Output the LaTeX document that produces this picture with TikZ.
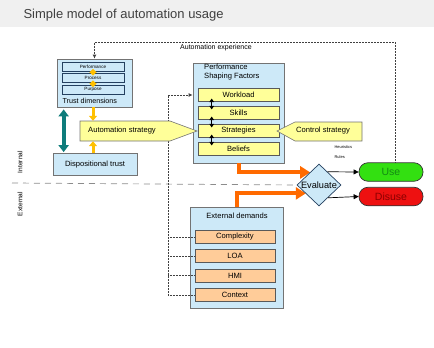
\documentclass[tikz,border=0pt]{standalone}
\usepackage{fontspec}
\setmainfont{Liberation Sans}
\usetikzlibrary{arrows.meta,shapes.geometric,calc}

\definecolor{boxblue}{HTML}{CDE9F8}
\definecolor{rowyellow}{HTML}{FFFF99}
\definecolor{rowpeach}{HTML}{FFCC99}
\definecolor{navyline}{HTML}{24405F}
\definecolor{tealarrow}{HTML}{0E7C7B}
\definecolor{goldarrow}{HTML}{FFC000}
\definecolor{orangearrow}{HTML}{FF6A00}
\definecolor{usegreen}{HTML}{33E011}
\definecolor{usetext}{HTML}{138A13}
\definecolor{disred}{HTML}{EE1111}
\definecolor{distext}{HTML}{8A0000}

\begin{document}
\begin{tikzpicture}[x=1pt,y=-1pt,
  font=\fontsize{7.6}{8.8}\selectfont,
  panel/.style={draw=black!55, fill=boxblue, line width=0.7pt, inner sep=0pt},
  trow/.style={draw=navyline, fill=boxblue, line width=0.7pt, minimum width=62, minimum height=9, inner sep=0pt, font=\fontsize{4.6}{5.5}\selectfont},
  yrow/.style={draw=black!65, fill=rowyellow, line width=0.6pt, minimum width=81, minimum height=13.5, inner sep=0pt},
  prow/.style={draw=black!65, fill=rowpeach, line width=0.6pt, minimum width=80, minimum height=13, inner sep=0pt},
  arrowshape/.style={draw=black!55, fill=rowyellow, line width=0.6pt},
  pill/.style={draw=black!80, line width=0.7pt, rounded corners=9pt, minimum width=64, minimum height=18.5, inner sep=0pt, font=\fontsize{10.5}{12}\selectfont},
  dotline/.style={draw=black!75, line width=0.9pt, dash pattern=on 0.9pt off 0.6pt},
  goldpair/.style={draw=goldarrow, line width=1.8pt, {Triangle[width=7pt,length=3.5pt]}-{Triangle[width=7pt,length=3.5pt]}},
  goldone/.style={draw=goldarrow, line width=3pt, -{Triangle[width=8pt,length=5pt]}},
  blkpair/.style={draw=black, line width=1pt, {Triangle[width=4.5pt,length=3.5pt]}-{Triangle[width=4.5pt,length=3.5pt]}},
  orangeflow/.style={draw=orangearrow, line width=4pt, -{Triangle[width=12pt,length=10pt]}},
  outarrow/.style={draw=black, line width=0.7pt, -{Triangle[width=5pt,length=5pt]}}
]
\useasboundingbox (0,0) rectangle (434,348);

% title band
\fill[black!6] (0,0) rectangle (434,27);
\node[anchor=west, font=\fontsize{13}{15}\selectfont, text=black!75] (title) at (20,15) {Simple model of automation usage};

% trust dimensions panel
\node[panel, minimum width=75, minimum height=48] (trust) at (94.5,83) {};
\node[trow] (perf) at (93,66.5) {Performance};
\node[trow] (proc) at (93,78) {Process};
\node[trow] (purp) at (93,89.5) {Purpose};
\node[anchor=west, font=\fontsize{7.2}{8}\selectfont] (trustlbl) at (59,101) {Trust dimensions};
\draw[goldpair] ([yshift=2.5pt]perf.south) -- ([yshift=-2.5pt]proc.north);
\draw[goldpair] ([yshift=2.5pt]proc.south) -- ([yshift=-2.5pt]purp.north);

% dispositional trust
\node[panel, minimum width=84, minimum height=22] (disp) at (95,164.5) {Dispositional trust};

% performance shaping factors panel
\node[panel, minimum width=91, minimum height=100] (psf) at (238.5,113) {};
\node[anchor=north west, align=left, inner sep=0pt] (psftitle) at (204,64) {Performance\\Shaping Factors};
\node[yrow] (wl) at (238.5,95) {Workload};
\node[yrow] (sk) at (238.5,113) {Skills};
\node[yrow] (st) at (238.5,131) {Strategies};
\node[yrow] (be) at (238.5,149) {Beliefs};
\draw[blkpair] ([xshift=14pt,yshift=3.5pt]wl.south west) -- ([xshift=14pt,yshift=-3.5pt]sk.north west);
\draw[blkpair] ([xshift=14pt,yshift=3.5pt]sk.south west) -- ([xshift=14pt,yshift=-3.5pt]st.north west);
\draw[blkpair] ([xshift=14pt,yshift=3.5pt]st.south west) -- ([xshift=14pt,yshift=-3.5pt]be.north west);

% external demands panel
\node[panel, minimum width=93, minimum height=101] (ext) at (236.5,257.5) {};
\node (exttitle) at (237,215.5) {External demands};
\node[prow] (cx) at (235,237) {Complexity};
\node[prow] (loa) at (235,256) {LOA};
\node[prow] (hmi) at (235,275.5) {HMI};
\node[prow] (ctx) at (235,295) {Context};

% internal / external divider
\coordinate (divL) at (12,183);
\node[rotate=90, font=\fontsize{6.6}{7.5}\selectfont] (intlbl) at (20,162) {Internal};
\node[rotate=90, font=\fontsize{6.6}{7.5}\selectfont] (extlbl) at (20,204) {External};

% flows into evaluation
\coordinate (evalW) at (297,185);
\coordinate (evalN) at (319,164);
\coordinate (evalS) at (319,206);
\draw[orangeflow] (psf.south) |- ($(evalW)!0.6!(evalN)$);
\draw[orangeflow] (ext.north) |- ($(evalW)!0.4!(evalS)$);

% evaluation and outcomes
\node[diamond, draw=navyline, fill=boxblue, line width=0.7pt, minimum width=44, minimum height=42, inner sep=0pt] (eval) at (319,185) {};
\node[font=\fontsize{9.2}{10}\selectfont] (evaltxt) at (eval) {Evaluate};
\node[pill, fill=usegreen, text=usetext] (use) at (391,172) {Use};
\node[pill, fill=disred, text=distext] (disuse) at (391,196.5) {Disuse};
\draw[outarrow] ($(eval.north)!0.38!(eval.east)$) -- (use.west);
\draw[outarrow] ($(eval.south)!0.4!(eval.east)$) -- (disuse.west);

\draw[draw=black!45, line width=0.7pt, dash pattern=on 6pt off 5pt] (divL) -- (eval.west);

% automation experience feedback loop
\coordinate (expcorner) at (395,42);
\draw[dotline, -{Latex[length=4pt,width=4pt]}] ([xshift=4pt]use.north) -- (expcorner) -| (trust.north);
\node[font=\fontsize{7}{8}\selectfont] (explbl) at (216,47.5) {Automation experience};

% external factors feeding workload
\coordinate (dlx) at (168,0);
\draw[dotline, -{Latex[length=4pt,width=4pt]}] (ctx.west) -| (dlx |- wl.west) -- (psf.west |- wl.west);
\draw[dotline] (cx.west) -- (dlx |- cx.west);
\draw[dotline] (loa.west) -- (dlx |- loa.west);
\draw[dotline] (hmi.west) -- (dlx |- hmi.west);

% trust to automation strategy
\draw[line width=4pt, tealarrow, {Triangle[width=10pt,length=7pt]}-{Triangle[width=10pt,length=7pt]}] ([xshift=7pt,yshift=-2pt]trust.south west) -- ([xshift=11pt,yshift=1pt]disp.north west);

% automation strategy arrow shape
\draw[arrowshape] (80,121) -- (170,121) -- (197,131) -- (170,141) -- (80,141) -- cycle;
\node (autostrat) at (122,131) [minimum width=80, minimum height=20, inner sep=0pt] {Automation strategy};
\draw[goldone] ([xshift=-1.5pt]trust.south) -- ([xshift=-29pt]autostrat.north);
\draw[goldone] ([xshift=-2pt]disp.north) -- ([xshift=-29pt]autostrat.south);

% control strategy arrow shape
\draw[arrowshape] (277,131) -- (295,122) -- (362,122) -- (362,141) -- (295,141) -- cycle;
\node (ctrlstrat) at (323,131) {Control strategy};
\node[anchor=west, font=\fontsize{4}{5}\selectfont] (heur) at (331,147) {Heuristics};
\node[anchor=west, font=\fontsize{4}{5}\selectfont] (rules) at (331,157) {Rules};
\end{tikzpicture}
\end{document}
